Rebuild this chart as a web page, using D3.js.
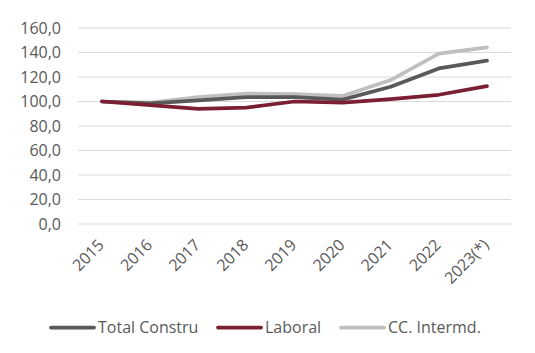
<!DOCTYPE html>
<html><head><meta charset="utf-8">
<script src="https://cdn.jsdelivr.net/npm/d3@7"></script>
<style>body{margin:0;background:#fff}text{font-family:"Open Sans",sans-serif;fill:#595959}</style>
</head><body>
<svg id="c" width="535" height="353"></svg>
<script>
const categories = ["2015","2016","2017","2018","2019","2020","2021","2022","2023(*)"];
const seriesNames = ["Total Constru","Laboral","CC. Intermd."];
const totalConstru = [100, 98.5, 101, 103.5, 103.5, 101.5, 112, 127, 133.3];
const laboral = [100, 97, 94, 95, 100, 99, 102, 105.5, 112.5];
const ccIntermd = [100, 99, 103.5, 106.5, 106, 104.5, 117.5, 139, 144.2];
const yTicks = [0,20,40,60,80,100,120,140,160];
const colors = ["#595959","#7B2032","#BFBFBF"];

const svg = d3.select("#c");
const x = d3.scaleBand().domain(categories).range([78, 511]);
const y = d3.scaleLinear().domain([0,160]).range([224, 28]);

svg.append("g").selectAll("line").data(yTicks).join("line")
  .attr("x1",78).attr("x2",511).attr("y1",d=>y(d)).attr("y2",d=>y(d))
  .attr("stroke","#D9D9D9").attr("stroke-width",1);

const fmt = d => d.toFixed(1).replace(".",",");
svg.append("g").selectAll("text").data(yTicks).join("text")
  .attr("x",61).attr("y",d=>y(d)).attr("dy","0.36em").attr("text-anchor","end")
  .attr("font-size","16px").text(fmt);

svg.append("g").selectAll("text").data(categories).join("text")
  .attr("text-anchor","end").attr("font-size","16px")
  .attr("transform",d=>`translate(${x(d)+x.bandwidth()/2+3},${246}) rotate(-45)`)
  .text(d=>d);

const data = [totalConstru, laboral, ccIntermd];
const line = d3.line().x((d,i)=>x(categories[i])+x.bandwidth()/2).y(d=>y(d));
[2,0,1].forEach(k=>{
  svg.append("path").attr("d",line(data[k])).attr("fill","none")
    .attr("stroke",colors[k]).attr("stroke-width",3.75).attr("stroke-linecap","round").attr("stroke-linejoin","round");
});

const legX = [51, 218, 341];
seriesNames.forEach((n,i)=>{
  const g = svg.append("g");
  g.append("line").attr("x1",legX[i]).attr("x2",legX[i]+43).attr("y1",327.5).attr("y2",327.5)
    .attr("stroke",colors[i]).attr("stroke-width",3.75).attr("stroke-linecap","round");
  g.append("text").attr("x",legX[i]+47).attr("y",327.5).attr("dy","0.36em").attr("font-size","16px").text(n);
});
</script>
</body></html>
